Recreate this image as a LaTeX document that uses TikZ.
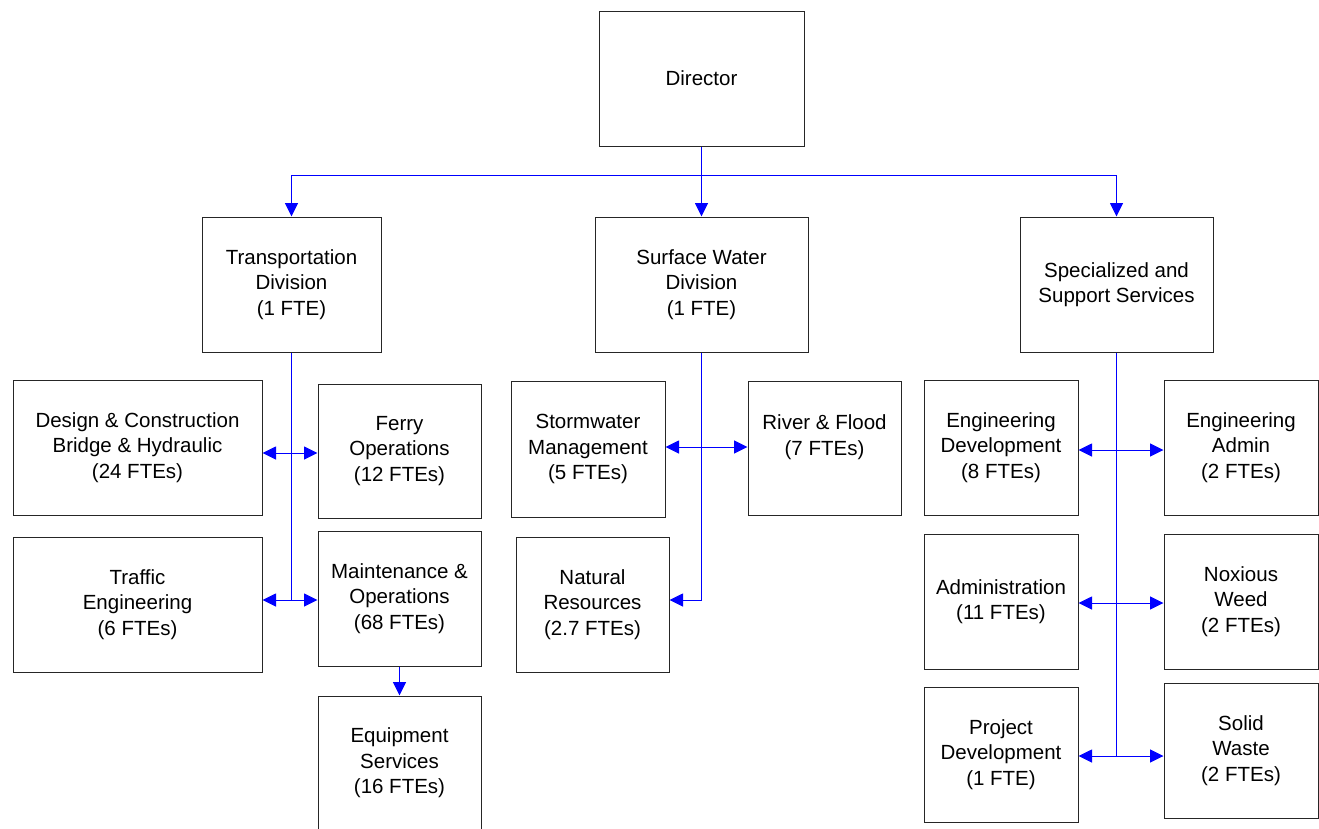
\documentclass[tikz,border=0pt]{standalone}
\usepackage{fontspec}
\setmainfont{Liberation Sans}
\usetikzlibrary{arrows.meta}
\begin{document}
\begin{tikzpicture}[x=1pt,y=-1pt,
  box/.style={draw=black!85, line width=1pt, fill=white, align=center, inner sep=0pt,
    font=\fontsize{20.5}{25.5}\selectfont},
  conn/.style={draw=blue, line width=1pt},
  tip/.tip={Triangle[length=13.5pt,width=13pt]},
  arr/.style={conn, -tip},
  darr/.style={conn, tip-tip}
]
\useasboundingbox (0,0) rectangle (1319,828);
\fill[white] (0,0) rectangle (1319,828);
\node[box, minimum width=205, minimum height=135] (dir) at (701.5,78.5) {Director};
\node[box, minimum width=179, minimum height=135] (trans) at (291.5,284.5) {Transportation\\Division\\(1 FTE)};
\node[box, minimum width=213, minimum height=135] (sw) at (701.5,284.5) {Surface Water\\Division\\(1 FTE)};
\node[box, minimum width=193, minimum height=135] (spec) at (1116.5,284.5) {Specialized and\\Support Services};
% left group
\node[box, minimum width=249, minimum height=135] (dc) at (137.5,447.5) {Design \& Construction\\Bridge \& Hydraulic\\(24 FTEs)};
\node[box, minimum width=163, minimum height=134] (ferry) at (399.5,451) {Ferry\\Operations\\(12 FTEs)};
\node[box, minimum width=249, minimum height=135] (traffic) at (137.5,604.5) {Traffic\\Engineering\\(6 FTEs)};
\node[box, minimum width=163, minimum height=135] (maint) at (399.5,598.5) {Maintenance \&\\Operations\\(68 FTEs)};
\node[box, minimum width=163, minimum height=134] (equip) at (399.5,763) {Equipment\\Services\\(16 FTEs)};
% middle group
\node[box, minimum width=154, minimum height=136] (storm) at (588,449) {Stormwater\\Management\\(5 FTEs)};
\node[box, minimum width=153, minimum height=134] (river) at (824.5,448) {River \& Flood\\(7 FTEs)\\\mbox{}};
\node[box, minimum width=153, minimum height=135] (nat) at (592.5,604.5) {Natural\\Resources\\(2.7 FTEs)};
% right group
\node[box, minimum width=154, minimum height=135] (ed) at (1001,447.5) {Engineering\\Development\\(8 FTEs)};
\node[box, minimum width=154, minimum height=135] (ea) at (1241,447.5) {Engineering\\Admin\\(2 FTEs)};
\node[box, minimum width=154, minimum height=135] (adm) at (1001,601.5) {Administration\\(11 FTEs)};
\node[box, minimum width=154, minimum height=135] (nw) at (1241,601.5) {Noxious\\Weed\\(2 FTEs)};
\node[box, minimum width=154, minimum height=135] (pd) at (1001,754.5) {Project\\Development\\(1 FTE)};
\node[box, minimum width=154, minimum height=135] (swst) at (1241,750.5) {Solid\\Waste\\(2 FTEs)};
% junction coordinates
\coordinate (bus) at (701.5,175);
\coordinate (l1) at (291.5,453);
\coordinate (l2) at (291.5,600);
\coordinate (m1) at (701.5,447);
\coordinate (m2) at (701.5,600);
\coordinate (r1) at (1116.5,450);
\coordinate (r2) at (1116.5,603);
\coordinate (r3) at (1116.5,756);
% top connectors
\draw[arr] (dir.south) -- (sw.north);
\draw[arr] (bus) -| (trans.north);
\draw[arr] (bus) -| (spec.north);
% left
\draw[conn] (trans.south) -- (l2);
\draw[darr] (l1 -| dc.east) -- (l1 -| ferry.west);
\draw[darr] (l2 -| traffic.east) -- (l2 -| maint.west);
\draw[arr] (maint.south) -- (equip.north);
% middle
\draw[arr] (sw.south) -- (m2) -- (m2 -| nat.east);
\draw[darr] (m1 -| storm.east) -- (m1 -| river.west);
% right
\draw[conn] (spec.south) -- (r3);
\draw[darr] (r1 -| ed.east) -- (r1 -| ea.west);
\draw[darr] (r2 -| adm.east) -- (r2 -| nw.west);
\draw[darr] (r3 -| pd.east) -- (r3 -| swst.west);
\end{tikzpicture}
\end{document}
